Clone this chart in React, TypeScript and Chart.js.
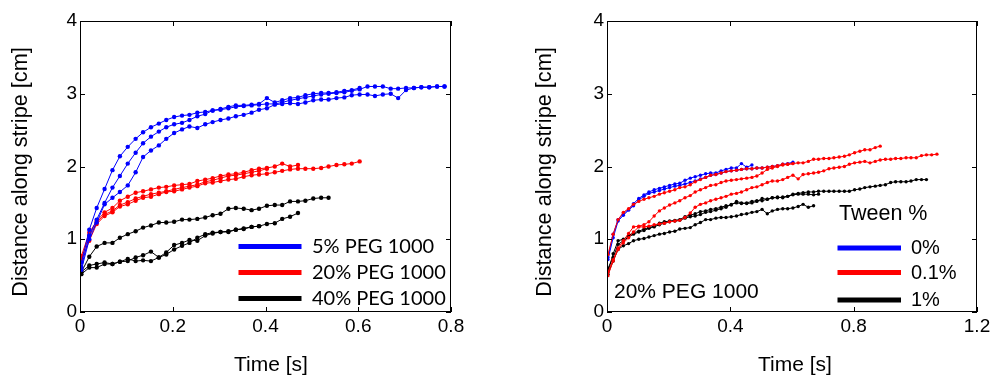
import React, { useEffect, useRef } from 'react';
import { Chart, registerables } from 'chart.js';

Chart.register(...registerables);

// ---- shared frame times (s), ~60 frames per second
const frameTimes = [
  0.003, 0.020, 0.036, 0.053, 0.070, 0.086, 0.103, 0.120, 0.136, 0.153,
  0.170, 0.186, 0.203, 0.220, 0.236, 0.253, 0.270, 0.286, 0.303, 0.320,
  0.336, 0.353, 0.370, 0.386, 0.403, 0.420, 0.436, 0.453, 0.470, 0.486,
  0.503, 0.520, 0.536, 0.553, 0.570, 0.586, 0.603, 0.620, 0.636, 0.653,
  0.670, 0.686, 0.703, 0.720, 0.736, 0.753, 0.770, 0.786, 0.803, 0.820,
  0.836, 0.853, 0.870, 0.886, 0.903, 0.920, 0.936, 0.953, 0.970, 0.986,
  1.003, 1.020, 1.036, 1.053, 1.070,
];

// ---- left panel: PEG concentration (distance in cm)
const leftBlue1 = [0.68, 1.13, 1.43, 1.69, 1.95, 2.14, 2.27, 2.38, 2.47, 2.54, 2.59, 2.64, 2.68, 2.70, 2.71, 2.74, 2.75, 2.77, 2.79, 2.82, 2.84, 2.84, 2.85, 2.86, 2.94, 2.88, 2.91, 2.94, 2.95, 2.98, 3.00, 3.01, 3.01, 3.02, 3.04, 3.05, 3.08];
const leftBlue2 = [0.62, 1.05, 1.27, 1.50, 1.71, 1.87, 2.04, 2.19, 2.32, 2.41, 2.48, 2.54, 2.58, 2.60, 2.64, 2.69, 2.72, 2.77, 2.78, 2.80, 2.82, 2.83, 2.84, 2.85, 2.86, 2.86, 2.88, 2.91, 2.93, 2.95, 2.97, 2.99, 3.00, 3.01, 3.02, 3.04, 3.06, 3.10, 3.10, 3.10, 3.07, 3.07, 3.08, 3.08, 3.09, 3.09, 3.10, 3.10];
const leftBlue3 = [0.58, 1.00, 1.23, 1.48, 1.57, 1.65, 1.74, 1.92, 2.13, 2.22, 2.29, 2.38, 2.46, 2.51, 2.55, 2.53, 2.58, 2.61, 2.64, 2.66, 2.69, 2.71, 2.74, 2.78, 2.80, 2.85, 2.86, 2.87, 2.86, 2.88, 2.91, 2.92, 2.92, 2.94, 2.95, 2.98, 2.99, 2.99, 2.97, 2.99, 3.00, 2.94, 3.05, 3.08, 3.09, 3.09, 3.10, 3.10];
const leftRed1 = [0.77, 1.09, 1.25, 1.37, 1.43, 1.53, 1.585, 1.64, 1.66, 1.685, 1.71, 1.72, 1.74, 1.75, 1.76, 1.80, 1.82, 1.84, 1.87, 1.89, 1.90, 1.92, 1.95, 1.97, 1.98, 2.00, 2.04, 2.00, 2.02];
const leftRed2 = [0.73, 1.05, 1.23, 1.34, 1.39, 1.47, 1.51, 1.56, 1.59, 1.62, 1.64, 1.66, 1.685, 1.71, 1.73, 1.75, 1.79, 1.81, 1.84, 1.87, 1.88, 1.90, 1.92, 1.94, 1.97];
const leftRed3 = [0.70, 0.98, 1.21, 1.32, 1.37, 1.45, 1.48, 1.53, 1.57, 1.585, 1.62, 1.65, 1.66, 1.685, 1.71, 1.73, 1.77, 1.78, 1.80, 1.82, 1.83, 1.86, 1.88, 1.89, 1.90, 1.92, 1.94, 1.96, 1.97, 1.97, 1.97, 1.98, 2.00, 2.02, 2.03, 2.04, 2.07];
const leftBlack1 = [0.55, 0.76, 0.90, 0.95, 0.95, 1.02, 1.07, 1.11, 1.16, 1.19, 1.23, 1.23, 1.24, 1.27, 1.27, 1.28, 1.30, 1.33, 1.35, 1.42, 1.43, 1.42, 1.40, 1.42, 1.46, 1.47, 1.47, 1.52, 1.52, 1.53, 1.56, 1.57, 1.57];
const leftBlack2 = [0.52, 0.61, 0.61, 0.66, 0.66, 0.69, 0.70, 0.75, 0.78, 0.83, 0.75, 0.79, 0.86, 0.91, 0.95, 1.02, 1.07, 1.09, 1.10, 1.10, 1.13, 1.15, 1.17, 1.18];
const leftBlack3 = [0.55, 0.64, 0.66, 0.68, 0.66, 0.69, 0.73, 0.70, 0.71, 0.70, 0.75, 0.82, 0.92, 0.95, 0.99, 0.98, 1.05, 1.08, 1.10, 1.11, 1.13, 1.14, 1.17, 1.18, 1.21, 1.22, 1.28, 1.31, 1.36];

// ---- right panel: Tween concentration at 20% PEG 1000
const rightBlue1 = [0.75, 1.07, 1.27, 1.35, 1.41, 1.49, 1.56, 1.61, 1.65, 1.68, 1.70, 1.72, 1.74, 1.76, 1.77, 1.81, 1.84, 1.86, 1.88, 1.90, 1.91, 1.91, 1.94, 1.96, 1.98, 1.98, 2.04, 1.99, 2.02];
const rightBlue2 = [0.72, 1.02, 1.25, 1.33, 1.40, 1.46, 1.54, 1.59, 1.63, 1.65, 1.67, 1.69, 1.71, 1.73, 1.74, 1.76, 1.78, 1.80, 1.83, 1.85, 1.88, 1.89, 1.91, 1.93, 1.94, 1.95, 1.96, 1.97, 1.97, 1.98, 1.98, 1.99, 2.00, 2.01, 2.03, 2.04, 2.06];
const rightRed1 = [0.79, 1.07, 1.27, 1.37, 1.42, 1.48, 1.52, 1.55, 1.57, 1.59, 1.62, 1.64, 1.66, 1.68, 1.71, 1.72, 1.75, 1.79,
  1.82, 1.85, 1.88, 1.89, 1.91, 1.93, 1.94, 1.95, 1.96, 1.97, 1.97, 1.98, 1.98, 1.99, 2.00, 2.01, 2.03, 2.03,
  2.04, 2.05, 2.05, 2.07, 2.10, 2.10, 2.11, 2.11, 2.12, 2.13, 2.14, 2.16, 2.19, 2.21, 2.23, 2.23, 2.26, 2.28];
const rightRed2 = [0.55, 0.72, 0.88, 0.98, 1.08, 1.17, 1.18, 1.20, 1.24, 1.32, 1.39, 1.43, 1.47, 1.50, 1.53, 1.57, 1.60, 1.65,
  1.68, 1.71, 1.74, 1.75, 1.78, 1.80, 1.81, 1.82, 1.83, 1.84, 1.85, 1.87, 1.91, 1.96, 1.98, 2.00, 2.02, 2.03, 2.04];
const rightRed3 = [0.50, 0.70, 0.86, 0.95, 1.02, 1.10, 1.17, 1.17, 1.18, 1.20, 1.21, 1.22, 1.24, 1.25, 1.26, 1.30, 1.36, 1.44,
  1.48, 1.50, 1.53, 1.55, 1.57, 1.59, 1.62, 1.63, 1.65, 1.68, 1.71, 1.72, 1.75, 1.78, 1.80, 1.80, 1.82, 1.85, 1.88, 1.83,
  1.89, 1.90, 1.91, 1.92, 1.94, 1.97, 1.98, 1.99, 2.00, 2.03, 2.05, 2.06, 2.07, 2.05, 2.07, 2.09, 2.10, 2.10, 2.11, 2.11,
  2.12, 2.12, 2.12, 2.15, 2.16, 2.16, 2.17];
const rightBlack1 = [0.55, 0.80, 0.98, 1.00, 1.05, 1.09, 1.11, 1.14, 1.16, 1.18, 1.22, 1.24, 1.25, 1.26, 1.27, 1.31, 1.33, 1.35,
  1.38, 1.39, 1.41, 1.42, 1.44, 1.46, 1.47, 1.52, 1.50, 1.49, 1.50, 1.52, 1.56, 1.55, 1.57, 1.58, 1.57, 1.59, 1.62,
  1.63, 1.64, 1.65, 1.65, 1.66, 1.66, 1.66, 1.66, 1.66, 1.66, 1.66, 1.68, 1.69, 1.71, 1.72, 1.73, 1.74, 1.75, 1.78, 1.79,
  1.79, 1.79, 1.80, 1.82, 1.82, 1.82];
const rightBlack2 = [0.60, 0.75, 0.93, 0.98, 1.03, 1.07, 1.10, 1.12, 1.15, 1.17, 1.20, 1.22, 1.24, 1.25, 1.26, 1.29, 1.31, 1.32,
  1.34, 1.37, 1.38, 1.40, 1.42, 1.44, 1.48, 1.50, 1.49, 1.50, 1.52, 1.53, 1.53, 1.55, 1.57, 1.57, 1.58, 1.59, 1.61, 1.62,
  1.62, 1.62, 1.61, 1.62];
const rightBlack3 = [0.52, 0.70, 0.86, 0.91, 0.94, 0.98, 1.00, 1.01, 1.03, 1.05, 1.07, 1.08, 1.10, 1.11, 1.14, 1.15, 1.16, 1.20,
  1.23, 1.27, 1.27, 1.29, 1.30, 1.30, 1.31, 1.32, 1.34, 1.35, 1.37, 1.38, 1.41, 1.35, 1.39, 1.41, 1.42, 1.42, 1.43, 1.45,
  1.48, 1.44, 1.46];

// ---- ticks and labels
const leftXTicks = [0, 0.2, 0.4, 0.6, 0.8];
const rightXTicks = [0, 0.4, 0.8, 1.2];
const yTicks = [0, 1, 2, 3, 4];
const xTitle = 'Time [s]';
const yTitle = 'Distance along stripe [cm]';
const leftLegendLabels = ['5% PEG 1000', '20% PEG 1000', '40% PEG 1000'];
const rightLegendTitle = 'Tween %';
const rightLegendLabels = ['0%', '0.1%', '1%'];
const rightNote = '20% PEG 1000';

const BLUE = '#0000ff';
const RED = '#ff0000';
const BLACK = '#000000';
const LEGEND_COLORS = [BLUE, RED, BLACK];
const SANS = '"Liberation Sans", Arial, sans-serif';

function buildDatasets(list: { vals: number[]; color: string }[], radius: number) {
  return list.map((s) => ({
    data: s.vals.map((y, i) => ({ x: frameTimes[i], y })),
    borderColor: s.color,
    backgroundColor: s.color,
    pointBackgroundColor: s.color,
    pointBorderColor: s.color,
    pointRadius: radius,
    pointHoverRadius: radius,
    pointBorderWidth: 0,
    borderWidth: 1,
    tension: 0,
    fill: false,
  }));
}

type DecorOpts = {
  yTitleX: number;
  yTitleY: number;
  xTitleX: number;
  xTitleY: number;
  lineX1: number;
  lineX2: number;
  textX: number;
  itemYs: number[];
  labels: string[];
  labelFont: string;
  legendTitle?: { text: string; x: number; y: number; font: string };
  note?: { text: string; x: number; y: number; font: string };
};

function makeDecor(o: DecorOpts) {
  return {
    id: 'decor',
    afterDraw(chart: any) {
      const { ctx, chartArea: a, scales } = chart;
      ctx.save();
      // box
      ctx.strokeStyle = '#000';
      ctx.lineWidth = 1;
      ctx.strokeRect(a.left + 0.5, a.top + 0.5, a.right - a.left - 1, a.bottom - a.top - 1);
      // inward ticks on all four sides
      const L = 5;
      ctx.beginPath();
      for (const t of scales.x.ticks) {
        const px = Math.round(scales.x.getPixelForValue(t.value)) + 0.5;
        ctx.moveTo(px, a.bottom);
        ctx.lineTo(px, a.bottom - L);
        ctx.moveTo(px, a.top);
        ctx.lineTo(px, a.top + L);
      }
      for (const t of scales.y.ticks) {
        const py = Math.round(scales.y.getPixelForValue(t.value)) + 0.5;
        ctx.moveTo(a.left, py);
        ctx.lineTo(a.left + L, py);
        ctx.moveTo(a.right, py);
        ctx.lineTo(a.right - L, py);
      }
      ctx.stroke();
      // axis titles
      ctx.fillStyle = '#000';
      ctx.textBaseline = 'middle';
      ctx.textAlign = 'center';
      ctx.font = `21px ${SANS}`;
      ctx.fillText(xTitle, o.xTitleX, o.xTitleY);
      ctx.save();
      ctx.translate(o.yTitleX, o.yTitleY);
      ctx.rotate(-Math.PI / 2);
      ctx.font = `21.7px ${SANS}`;
      ctx.fillText(yTitle, 0, 0);
      ctx.restore();
      // legend
      ctx.textAlign = 'left';
      ctx.lineWidth = 5;
      ctx.lineCap = 'butt';
      o.labels.forEach((lab, i) => {
        const y = o.itemYs[i];
        ctx.strokeStyle = LEGEND_COLORS[i];
        ctx.beginPath();
        ctx.moveTo(o.lineX1, y);
        ctx.lineTo(o.lineX2, y);
        ctx.stroke();
        ctx.font = o.labelFont;
        ctx.fillText(lab, o.textX, y + 0.5);
      });
      if (o.legendTitle) {
        ctx.font = o.legendTitle.font;
        ctx.fillText(o.legendTitle.text, o.legendTitle.x, o.legendTitle.y);
      }
      if (o.note) {
        ctx.font = o.note.font;
        ctx.fillText(o.note.text, o.note.x, o.note.y);
      }
      ctx.restore();
    },
  };
}

function makeConfig(p: {
  datasets: any[];
  xMax: number;
  xTicks: number[];
  yAxisWidth: number;
  rightPad: number;
  decor: any;
}): any {
  const tickFont = { family: SANS, size: 19 };
  return {
    type: 'line',
    data: { datasets: p.datasets },
    options: {
      animation: false,
      responsive: false,
      maintainAspectRatio: false,
      events: [],
      layout: { padding: { top: 21, right: p.rightPad, left: 0, bottom: 0 } },
      plugins: { legend: { display: false }, tooltip: { enabled: false } },
      scales: {
        x: {
          type: 'linear',
          min: 0,
          max: p.xMax,
          afterBuildTicks: (s: any) => {
            s.ticks = p.xTicks.map((v) => ({ value: v }));
          },
          afterFit: (s: any) => {
            s.height = 65;
          },
          ticks: {
            color: '#000',
            font: tickFont,
            padding: 3,
            maxRotation: 0,
            autoSkip: false,
            callback: (v: number) => String(v),
          },
          grid: { display: false, drawTicks: false },
          border: { display: false },
        },
        y: {
          type: 'linear',
          min: 0,
          max: 4,
          afterBuildTicks: (s: any) => {
            s.ticks = yTicks.map((v) => ({ value: v }));
          },
          afterFit: (s: any) => {
            s.width = p.yAxisWidth;
          },
          ticks: {
            color: '#000',
            font: tickFont,
            padding: 3,
            autoSkip: false,
            callback: (v: number) => String(v),
          },
          grid: { display: false, drawTicks: false },
          border: { display: false },
        },
      },
    },
    plugins: [p.decor],
  };
}

function buildLeft() {
  const datasets = buildDatasets(
    [
      { vals: leftBlue1, color: BLUE },
      { vals: leftBlue2, color: BLUE },
      { vals: leftBlue3, color: BLUE },
      { vals: leftRed1, color: RED },
      { vals: leftRed2, color: RED },
      { vals: leftRed3, color: RED },
      { vals: leftBlack1, color: BLACK },
      { vals: leftBlack2, color: BLACK },
      { vals: leftBlack3, color: BLACK },
    ],
    2.2
  );
  return makeConfig({
    datasets,
    xMax: 0.8,
    xTicks: leftXTicks,
    yAxisWidth: 80,
    rightPad: 46,
    decor: makeDecor({
      yTitleX: 21.5,
      yTitleY: 172,
      xTitleX: 271,
      xTitleY: 365,
      lineX1: 238.5,
      lineX2: 301.5,
      textX: 312,
      itemYs: [246.5, 272.5, 298.5],
      labels: leftLegendLabels,
      labelFont: '20px Lato, "Liberation Sans", sans-serif',
    }),
  });
}

function buildRight() {
  const datasets = buildDatasets(
    [
      { vals: rightRed1, color: RED },
      { vals: rightRed2, color: RED },
      { vals: rightRed3, color: RED },
      { vals: rightBlack1, color: BLACK },
      { vals: rightBlack2, color: BLACK },
      { vals: rightBlack3, color: BLACK },
      { vals: rightBlue1, color: BLUE },
      { vals: rightBlue2, color: BLUE },
    ],
    1.7
  );
  return makeConfig({
    datasets,
    xMax: 1.2,
    xTicks: rightXTicks,
    yAxisWidth: 110,
    rightPad: 18,
    decor: makeDecor({
      yTitleX: 48,
      yTitleY: 172,
      xTitleX: 298,
      xTitleY: 365,
      lineX1: 340.5,
      lineX2: 404,
      textX: 414,
      itemYs: [248, 272.5, 300],
      labels: rightLegendLabels,
      labelFont: `20px ${SANS}`,
      legendTitle: { text: rightLegendTitle, x: 342, y: 214, font: `21.5px ${SANS}` },
      note: { text: rightNote, x: 117, y: 292, font: `21px ${SANS}` },
    }),
  });
}

function ChartCanvas({ width, height, build }: { width: number; height: number; build: () => any }) {
  const ref = useRef<HTMLCanvasElement | null>(null);
  useEffect(() => {
    if (!ref.current) return;
    const chart = new Chart(ref.current, build());
    return () => chart.destroy();
  }, [build]);
  return (
    <canvas
      ref={ref}
      width={width}
      height={height}
      style={{ width, height, display: 'block' }}
    />
  );
}

export default function App() {
  return (
    <div
      style={{
        position: 'fixed',
        left: 0,
        top: 0,
        width: 995,
        height: 377,
        display: 'flex',
        background: '#ffffff',
      }}
    >
      <ChartCanvas width={497} height={377} build={buildLeft} />
      <ChartCanvas width={498} height={377} build={buildRight} />
    </div>
  );
}
